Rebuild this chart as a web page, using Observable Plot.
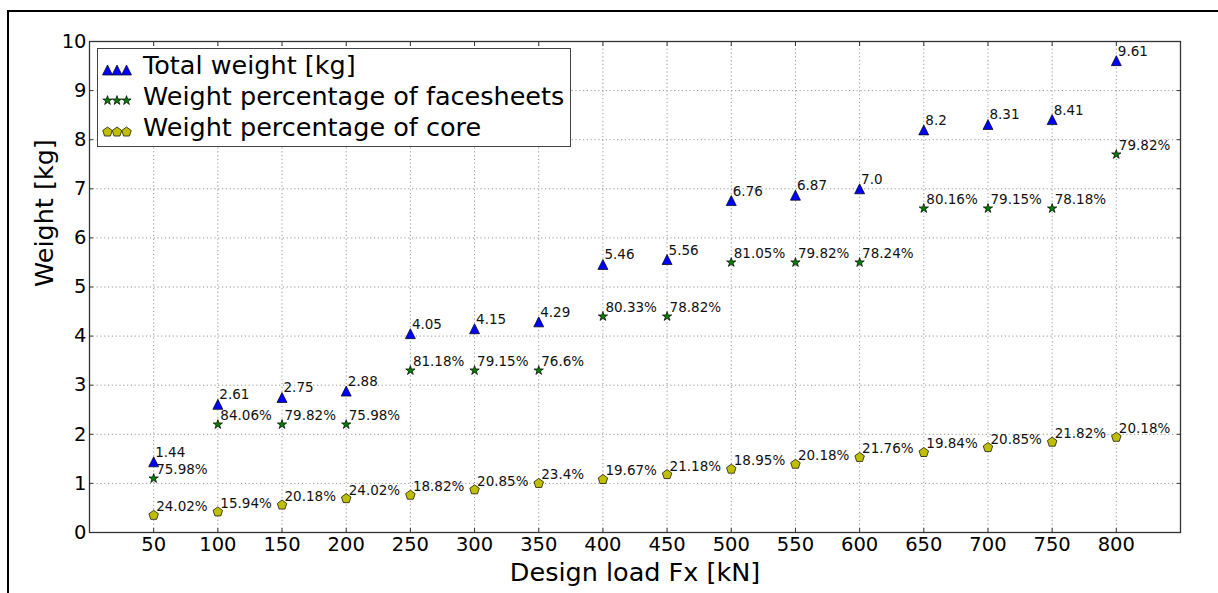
<!DOCTYPE html>
<html><head><meta charset="utf-8">
<script src="https://cdn.jsdelivr.net/npm/d3@7"></script>
<script src="https://cdn.jsdelivr.net/npm/@observablehq/plot@0.6"></script>
<style>
body{margin:0;background:#fff;}
#wrap{position:relative;width:1218px;height:593px;overflow:hidden;font-family:"DejaVu Sans",sans-serif;background:#fff;}
#wrap svg.chart{position:absolute;left:0;top:0;}
.bl{position:absolute;left:7px;top:10px;width:2px;height:583px;background:#000;}
.bt{position:absolute;left:7px;top:10px;width:1211px;height:2px;background:#000;}
#legend{position:absolute;left:97px;top:48px;width:474px;height:99px;border:1px solid #444;box-sizing:border-box;background:#fff;}
#legend svg{position:absolute;left:-1px;top:-1px;}
</style></head><body><div id="wrap"><div class="bl"></div><div class="bt"></div></div>
<script>
// ---- data ----
const loads = [50,100,150,200,250,300,350,400,450,500,550,600,650,700,750,800];
const totalWeight = [1.44,2.61,2.75,2.88,4.05,4.15,4.29,5.46,5.56,6.76,6.87,7.0,8.2,8.31,8.41,9.61];
const totalLabels = ["1.44","2.61","2.75","2.88","4.05","4.15","4.29","5.46","5.56","6.76","6.87","7.0","8.2","8.31","8.41","9.61"];
const facesheetY = [1.1,2.2,2.2,2.2,3.3,3.3,3.3,4.4,4.4,5.5,5.5,5.5,6.6,6.6,6.6,7.7];
const facesheetPct = ["75.98%","84.06%","79.82%","75.98%","81.18%","79.15%","76.6%","80.33%","78.82%","81.05%","79.82%","78.24%","80.16%","79.15%","78.18%","79.82%"];
const coreY = [0.35,0.42,0.56,0.69,0.76,0.87,1.0,1.08,1.18,1.29,1.39,1.53,1.63,1.73,1.84,1.94];
const corePct = ["24.02%","15.94%","20.18%","24.02%","18.82%","20.85%","23.4%","19.67%","21.18%","18.95%","20.18%","21.76%","19.84%","20.85%","21.82%","20.18%"];
const xTicks = [50,100,150,200,250,300,350,400,450,500,550,600,650,700,750,800];
const yTicks = [0,1,2,3,4,5,6,7,8,9,10];
const seriesNames = ["Total weight [kg]","Weight percentage of facesheets","Weight percentage of core"];
const xLabel = "Design load Fx [kN]";
const yLabel = "Weight [kg]";

// ---- symbols (matplotlib-like markers) ----
const triangleSym = {draw(ctx, size){const r=Math.sqrt(size/Math.PI);ctx.moveTo(0,-r);ctx.lineTo(r,r);ctx.lineTo(-r,r);ctx.closePath();}};
const starSym = {draw(ctx, size){const r=Math.sqrt(size/Math.PI), ri=r*0.381966;
  for(let k=0;k<10;k++){const a=-Math.PI/2+k*Math.PI/5, rr=k%2?ri:r; const px=rr*Math.cos(a), py=rr*Math.sin(a); k?ctx.lineTo(px,py):ctx.moveTo(px,py);} ctx.closePath();}};
const pentagonSym = {draw(ctx, size){const r=Math.sqrt(size/Math.PI);
  for(let k=0;k<5;k++){const a=-Math.PI/2+k*2*Math.PI/5; const px=r*Math.cos(a), py=r*Math.sin(a); k?ctx.lineTo(px,py):ctx.moveTo(px,py);} ctx.closePath();}};

const colors = ["#0000ff","#007f00","#bfbf00"];
const symbols = [triangleSym, starSym, pentagonSym];
const radii = [5, 4.9, 5];

const rows = loads.map((x,i)=>({x, total: totalWeight[i], tl: totalLabels[i], fy: facesheetY[i], fl: facesheetPct[i], cy: coreY[i], cl: corePct[i]}));

const lblFont = 13.5, tickFont = 19.5, bigFont = 25.5;
const gridStyle = {stroke:"#8a8a8a", strokeOpacity:1, strokeDasharray:"1.2,2.6", strokeWidth:0.9};

const chart = Plot.plot({
  width:1218, height:593,
  marginLeft:89, marginRight:38, marginTop:41, marginBottom:61,
  style:{fontFamily:"'DejaVu Sans', sans-serif", background:"transparent", color:"#000", overflow:"visible"},
  x:{domain:[0,850], label:null},
  y:{domain:[0,10], label:null},
  marks:[
    Plot.gridX(xTicks, gridStyle),
    Plot.gridY(yTicks, gridStyle),
    Plot.axisX(xTicks, {tickSize:0, tickPadding:5, fontSize:tickFont, tickFormat:d=>String(d), label:null}),
    Plot.axisX(xTicks, {tickSize:-4, text:null, label:null, stroke:"#333"}),
    Plot.axisX(xTicks, {anchor:"top", tickSize:-4, text:null, label:null, stroke:"#333"}),
    Plot.axisY(yTicks, {tickSize:0, tickPadding:3, fontSize:tickFont, tickFormat:d=>String(d), label:null}),
    Plot.axisY(yTicks, {tickSize:-4, text:null, label:null, stroke:"#333"}),
    Plot.axisY(yTicks, {anchor:"right", tickSize:-4, text:null, label:null, stroke:"#333"}),
    Plot.frame({stroke:"#333", strokeWidth:1.3}),
    Plot.dot(rows, {x:"x", y:"cy", symbol:pentagonSym, r:radii[2], fill:colors[2], stroke:"#000", strokeWidth:0.7}),
    Plot.dot(rows, {x:"x", y:"fy", symbol:starSym, r:radii[1], fill:colors[1], stroke:"#000", strokeWidth:0.7}),
    Plot.dot(rows, {x:"x", y:"total", symbol:triangleSym, r:radii[0], fill:colors[0], stroke:"#000", strokeWidth:0.7}),
    Plot.text(rows, {x:"x", y:"cy", text:"cl", textAnchor:"start", lineAnchor:"bottom", dx:2.5, dy:-4, fontSize:lblFont, fill:"#111"}),
    Plot.text(rows, {x:"x", y:"fy", text:"fl", textAnchor:"start", lineAnchor:"bottom", dx:2.5, dy:-4, fontSize:lblFont, fill:"#111"}),
    Plot.text(rows, {x:"x", y:"total", text:"tl", textAnchor:"start", lineAnchor:"bottom", dx:1.5, dy:-5, fontSize:lblFont, fill:"#111"}),
    Plot.text([xLabel], {frameAnchor:"bottom", dy:48, lineAnchor:"bottom", fontSize:bigFont, fill:"#000"}),
    Plot.text([yLabel], {frameAnchor:"left", dx:-45, rotate:-90, lineAnchor:"middle", fontSize:bigFont, fill:"#000"})
  ]
});
chart.classList.add("chart");
document.getElementById("wrap").appendChild(chart);

// ---- legend ----
const ns = "http://www.w3.org/2000/svg";
const leg = document.createElement("div");
leg.id = "legend";
const lsvg = document.createElementNS(ns, "svg");
lsvg.setAttribute("width", 474); lsvg.setAttribute("height", 99);
const markerYs = [22, 52.5, 84];
const textYs = [25.5, 56.5, 88];
seriesNames.forEach((name, i) => {
  [10.5, 20, 29.5].forEach(mx => {
    const p = d3.path();
    symbols[i].draw(p, Math.PI * radii[i] * radii[i]);
    const path = document.createElementNS(ns, "path");
    path.setAttribute("d", p.toString());
    path.setAttribute("transform", `translate(${mx},${markerYs[i]})`);
    path.setAttribute("fill", colors[i]);
    path.setAttribute("stroke", "#000");
    path.setAttribute("stroke-width", 0.7);
    lsvg.appendChild(path);
  });
  const t = document.createElementNS(ns, "text");
  t.setAttribute("x", 46); t.setAttribute("y", textYs[i]);
  t.setAttribute("font-family", "DejaVu Sans, sans-serif");
  t.setAttribute("font-size", bigFont);
  t.setAttribute("fill", "#000");
  t.textContent = name;
  lsvg.appendChild(t);
});
leg.appendChild(lsvg);
document.getElementById("wrap").appendChild(leg);
</script></body></html>
